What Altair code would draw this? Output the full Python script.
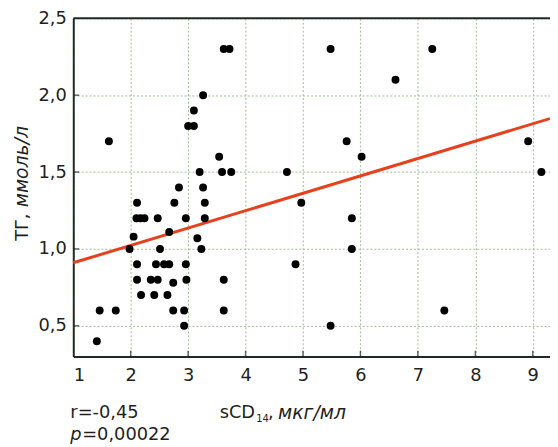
import altair as alt
import pandas as pd

x_vals = [1.41, 1.46, 1.62, 1.74, 1.98, 2.05, 2.11, 2.10, 2.17, 2.24, 2.11, 2.11, 2.18,
          2.35, 2.41, 2.44, 2.47, 2.47, 2.51, 2.58, 2.67, 2.64, 2.67, 2.74, 2.74, 2.76,
          2.84, 2.93, 2.93, 2.96, 2.96, 2.97, 3.00, 3.10, 3.10, 3.16, 3.20, 3.23, 3.26,
          3.26, 3.29, 3.29, 3.54, 3.59, 3.62, 3.62, 3.62, 3.72, 3.75, 4.72, 4.87, 4.97,
          5.48, 5.48, 5.76, 5.85, 5.85, 6.02, 6.61, 7.25, 7.46, 8.92, 9.15]
y_vals = [0.40, 0.60, 1.70, 0.60, 1.00, 1.08, 1.30, 1.20, 1.20, 1.20, 0.90, 0.80, 0.70,
          0.80, 0.70, 0.90, 0.80, 1.20, 1.00, 0.90, 0.90, 0.70, 1.11, 0.78, 0.60, 1.30,
          1.40, 0.60, 0.50, 0.90, 1.20, 0.80, 1.80, 1.80, 1.90, 1.07, 1.50, 1.00, 2.00,
          1.40, 1.30, 1.20, 1.60, 1.50, 2.30, 0.80, 0.60, 2.30, 1.50, 1.50, 0.90, 1.30,
          2.30, 0.50, 1.70, 1.20, 1.00, 1.60, 2.10, 2.30, 0.60, 1.70, 1.50]

# regression line end points
line_x = [1.0, 9.30]
line_y = [0.91, 1.848]

x_ticks = [1, 2, 3, 4, 5, 6, 7, 8, 9]
y_ticks = [0.5, 1.0, 1.5, 2.0, 2.5]

W, H = 482, 342
FONT = "DejaVu Sans"
FRAME = "#1f2b22"
GRID = "#9dbd95"
TXT = "#231f20"
FS = 18

xs = alt.Scale(domain=[1, 9.30], nice=False, zero=False)
ys = alt.Scale(domain=[0.3, 2.5], nice=False, zero=False)

x_axis = alt.Axis(values=x_ticks, grid=True, gridColor=GRID, gridDash=[2, 2], gridWidth=1,
                  ticks=False, domain=True, domainColor=FRAME, domainWidth=2,
                  labelFont=FONT, labelFontSize=FS, labelColor=TXT, labelPadding=10,
                  title=None, format="d")
y_axis = alt.Axis(values=y_ticks, grid=True, gridColor=GRID, gridDash=[2, 2], gridWidth=1,
                  ticks=False, domain=True, domainColor=FRAME, domainWidth=2,
                  labelFont=FONT, labelFontSize=FS, labelColor=TXT, labelPadding=7,
                  title=None, labelExpr="replace(format(datum.value, '.1f'), '.', ',')")

X = alt.X("x:Q", scale=xs, axis=x_axis)
Y = alt.Y("y:Q", scale=ys, axis=y_axis)

pts_df = pd.DataFrame({"x": x_vals, "y": y_vals})
line_df = pd.DataFrame({"x": line_x, "y": line_y})

reg = alt.Chart(line_df).mark_line(color="#e8401c", strokeWidth=3).encode(x=X, y=Y)

points = alt.Chart(pts_df).mark_circle(size=64, color="black", opacity=1).encode(x=X, y=Y)

xt = alt.Chart(pd.DataFrame({"x": x_ticks[1:]})).mark_tick(
    size=6, thickness=1.5, color=FRAME, orient="vertical").encode(
    x=X, y=alt.value(H - 3))
yt = alt.Chart(pd.DataFrame({"y": y_ticks[:-1]})).mark_tick(
    size=6, thickness=1.5, color=FRAME, orient="horizontal").encode(
    y=Y, x=alt.value(3))

one = pd.DataFrame({"k": [0]})
top = alt.Chart(one).mark_rule(color=FRAME, strokeWidth=2).encode(
    x=alt.value(0), x2=alt.value(W), y=alt.value(0))


def txt(s, px, py, size=FS, style="normal", angle=0, baseline="middle"):
    return alt.Chart(pd.DataFrame({"t": [s]})).mark_text(
        font=FONT, fontSize=size, fontStyle=style, color=TXT, align="left",
        baseline=baseline, angle=angle).encode(
        text="t:N", x=alt.value(px), y=alt.value(py))


texts = [
    txt("r=-0,45", -3, 399),
    txt("sCD", 148, 399),
    txt("14", 185, 405, size=10),
    txt(",", 197, 399),
    txt("мкг/мл", 207, 399, size=19, style="italic"),
    txt("p", -3, 421, style="italic"),
    txt("=0,00022", 9, 421),
    txt("ТГ,", -46, 225, angle=270, baseline="alphabetic"),
    txt("ммоль/л", -46, 191, size=19, style="italic", angle=270, baseline="alphabetic"),
]

chart = alt.layer(reg, points, xt, yt, top, *texts).properties(
    width=W, height=H,
    padding={"left": 66, "top": 8, "right": 0, "bottom": 89},
    autosize=alt.AutoSizeParams(type="none"),
    background="white",
).configure_view(stroke=None)

chart.save("out.html", embed_options={"renderer": "svg", "actions": False})
